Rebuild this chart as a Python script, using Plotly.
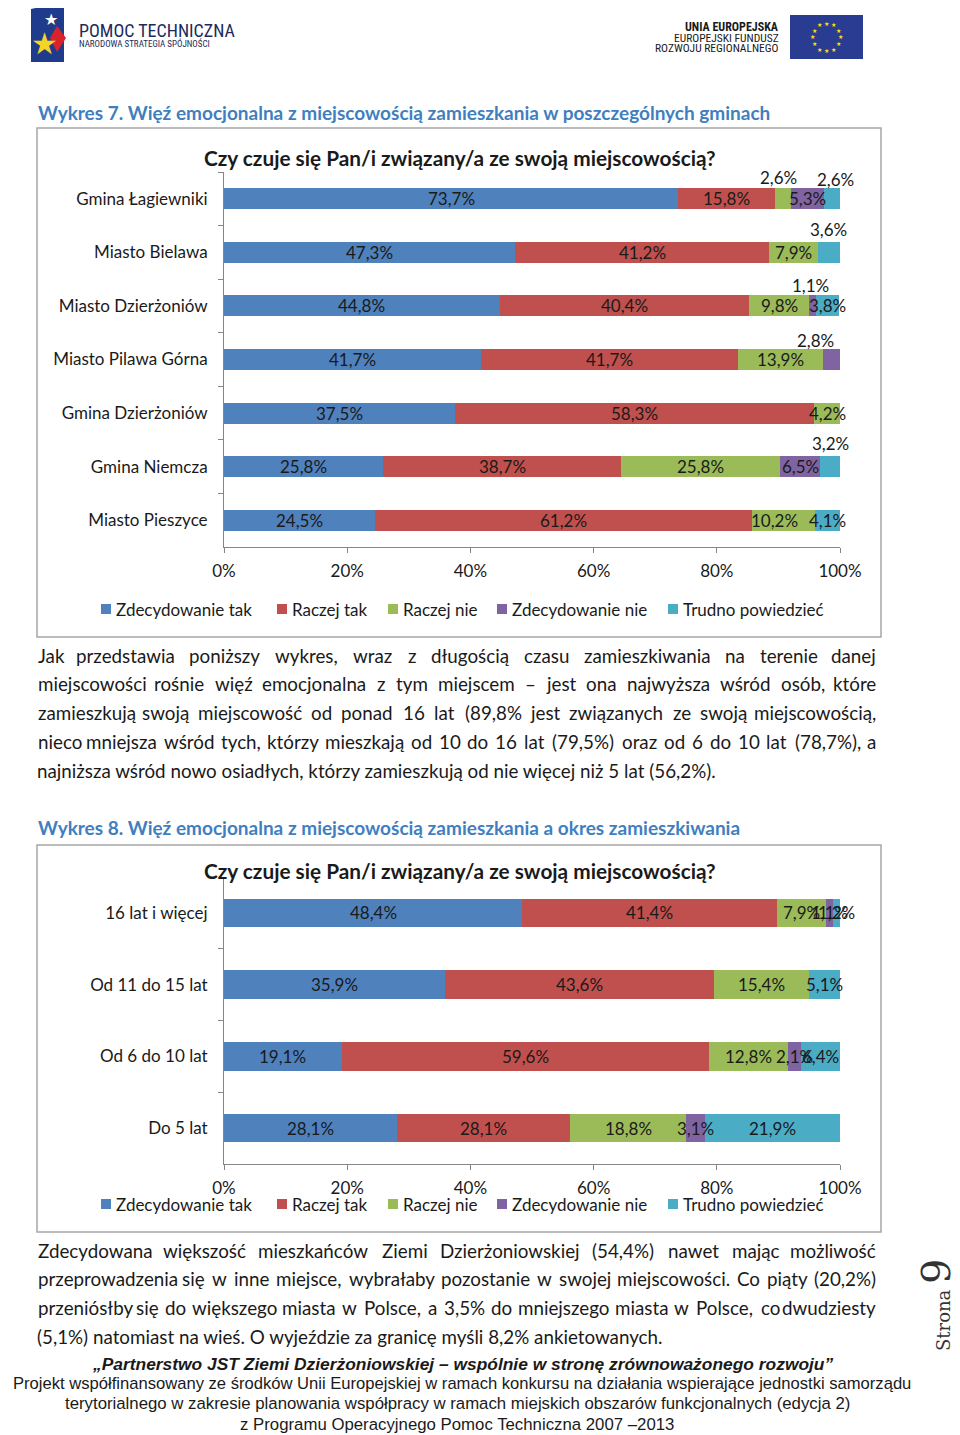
import math
import plotly.graph_objects as go

# The page body has an 8px default margin; the figure is sized/offset to compensate.
OFF = 8
FW, FH = 960 - OFF, 1435 - OFF
FONT = "Lato, Carlito, 'Open Sans', sans-serif"
TXT = "#1a1a1a"

# ---------------- data: Wykres 7 ----------------
cats1 = ["Gmina Łagiewniki", "Miasto Bielawa", "Miasto Dzierżoniów", "Miasto Pilawa Górna",
         "Gmina Dzierżoniów", "Gmina Niemcza", "Miasto Pieszyce"]
series = ["Zdecydowanie tak", "Raczej tak", "Raczej nie", "Zdecydowanie nie", "Trudno powiedzieć"]
colors = ["#4F81BD", "#C0504D", "#9BBB59", "#8064A2", "#4BACC6"]
zt1 = [73.7, 47.3, 44.8, 41.7, 37.5, 25.8, 24.5]
rt1 = [15.8, 41.2, 40.4, 41.7, 58.3, 38.7, 61.2]
rn1 = [2.6, 7.9, 9.8, 13.9, 4.2, 25.8, 10.2]
zn1 = [5.3, 0, 1.1, 2.8, 0, 6.5, 0]
tp1 = [2.6, 3.6, 3.8, 0, 0, 3.2, 4.1]

# ---------------- data: Wykres 8 ----------------
cats2 = ["16 lat i więcej", "Od 11 do 15 lat", "Od 6 do 10 lat", "Do 5 lat"]
zt2 = [48.4, 35.9, 19.1, 28.1]
rt2 = [41.4, 43.6, 59.6, 28.1]
rn2 = [7.9, 15.4, 12.8, 18.8]
zn2 = [1.1, 0, 2.1, 3.1]
tp2 = [1.2, 5.1, 6.4, 21.9]

xticks = [0, 20, 40, 60, 80, 100]
xticklabels = ["0%", "20%", "40%", "60%", "80%", "100%"]

vals1 = [zt1, rt1, rn1, zn1, tp1]
vals2 = [zt2, rt2, rn2, zn2, tp2]

# manual label moves (series index, category index) -> (xshift, yshift) in px
moves1 = {(2, 0): (-5, -21), (4, 0): (4, -19), (4, 1): (0, -23), (3, 2): (-2, -20),
          (3, 3): (-16, -19), (4, 5): (0, -23), (2, 6): (-9, 0)}
moves2 = {}


def px(x):
    return (x - OFF) / FW


def py(y):
    return 1 - (y - OFF) / FH


fig = go.Figure()
for k, name in enumerate(series):
    fig.add_trace(go.Bar(y=cats1, x=vals1[k], orientation="h", name=name,
                         marker=dict(color=colors[k], line=dict(width=0)), width=0.39,
                         xaxis="x", yaxis="y", showlegend=False, hoverinfo="skip"))
for k, name in enumerate(series):
    fig.add_trace(go.Bar(y=cats2, x=vals2[k], orientation="h", name=name,
                         marker=dict(color=colors[k], line=dict(width=0)), width=0.40,
                         xaxis="x2", yaxis="y2", showlegend=False, hoverinfo="skip"))

ann = []
shapes = []


def fmt(v):
    return ("%.1f" % v).replace(".", ",") + "%"


def data_labels(cats, vals, xr, yr, moves):
    for i, c in enumerate(cats):
        cum = 0.0
        for k in range(len(vals)):
            v = vals[k][i]
            if v > 0:
                xs, ys = moves.get((k, i), (0, 0))
                ann.append(dict(x=cum + v / 2, y=c, xref=xr, yref=yr, text=fmt(v), showarrow=False,
                                xanchor="center", yanchor="middle", xshift=xs, yshift=-ys,
                                font=dict(family=FONT, size=17, color=TXT)))
            cum += v


data_labels(cats1, vals1, "x", "y", moves1)
data_labels(cats2, vals2, "x2", "y2", moves2)


def text(x, y, s, size, color=TXT, anchor="left", weight="normal", family=FONT, style="normal", angle=0):
    ann.append(dict(x=px(x), y=py(y), xref="paper", yref="paper", text=s, showarrow=False,
                    xanchor=anchor, yanchor="middle", textangle=angle,
                    font=dict(family=family, size=size, color=color, weight=weight, style=style)))


# ---- width estimate for justification ----
WEM = {}


def setw(chars, w):
    for ch in chars:
        WEM[ch] = w


setw("iljíI.,:;'!|", 0.24)
setw("ł", 0.30)
setw("ft", 0.33)
setw("()", 0.31)
setw("-", 0.33)
setw("r", 0.37)
setw("J", 0.38)
setw("sś", 0.42)
setw("zźż", 0.44)
setw("cć", 0.47)
setw("aą", 0.49)
setw("kvx", 0.49)
setw("y", 0.51)
setw("g", 0.50)
setw("eę", 0.52)
setw("bdhnńpquoó", 0.55)
setw("w", 0.76)
setw("m", 0.82)
setw("0123456789", 0.58)
setw("%", 0.76)
setw("–", 0.55)
setw(" ", 0.2)


def est(word, size):
    t = 0
    for ch in word:
        if ch in WEM:
            t += WEM[ch]
        elif ch.isupper():
            t += 0.65
        else:
            t += 0.5
    return t * size


def justify(line, y, size, x0=36, x1=878):
    words = line.split(" ")
    ws = [est(w, size) for w in words]
    gap = (x1 - x0 - sum(ws)) / (len(words) - 1)
    x = x0
    for i, w in enumerate(words):
        if i == 0:
            text(x0, y, w, size)
        elif i == len(words) - 1:
            text(x1, y, w, size, anchor="right")
        else:
            text(x + ws[i] / 2, y, w, size, anchor="center")
        x += ws[i] + gap


# ---------------- header logos ----------------
def path(points):
    return "M " + " L ".join("%f,%f" % (px(a), py(b)) for a, b in points) + " Z"


NARROW = "'Liberation Sans Narrow', 'Roboto Condensed', Roboto, sans-serif"
shapes.append(dict(type="path", xref="paper", yref="paper",
                   path=path([(31, 9), (64, 2), (64, 62), (31, 62)]),
                   fillcolor="#1F3C8C", line=dict(width=0)))
shapes.append(dict(type="path", xref="paper", yref="paper",
                   path=path([(57, 26), (66, 38), (57, 52), (50, 38)]),
                   fillcolor="#D8232A", line=dict(width=0)))
text(44, 44, "★", 30, color="#F6D324", anchor="center", family="DejaVu Sans")
text(51, 20, "★", 16, color="#FFFFFF", anchor="center", family="DejaVu Sans")
text(77, 30, "POMOC TECHNICZNA", 18, color="#1D2B5C", family=NARROW)
text(77, 44, "NARODOWA STRATEGIA SPÓJNOŚCI", 9, color="#1D2B5C", family=NARROW)

text(781, 27, "UNIA EUROPEJSKA", 12, color="#1a1a1a", anchor="right", weight="bold", family=NARROW)
text(781, 37.5, "EUROPEJSKI FUNDUSZ", 11.5, color="#1a1a1a", anchor="right", family=NARROW)
text(781, 48, "ROZWOJU REGIONALNEGO", 11.5, color="#1a1a1a", anchor="right", family=NARROW)
shapes.append(dict(type="rect", xref="paper", yref="paper", x0=px(790), x1=px(863), y0=py(59), y1=py(15),
                   fillcolor="#2A3C91", line=dict(width=0)))
for s in range(12):
    a = 2 * math.pi * s / 12
    text(826.5 + 14 * math.cos(a), 37 + 14 * math.sin(a), "★", 6, color="#FFE000", anchor="center",
         family="DejaVu Sans")

# ---------------- headings ----------------
BLUE = "#3F7FC0"
text(36, 112, "Wykres 7. Więź emocjonalna z miejscowością zamieszkania w poszczególnych gminach", 19,
     color=BLUE, weight="bold")
text(36, 827, "Wykres 8. Więź emocjonalna z miejscowością zamieszkania a okres zamieszkiwania", 19,
     color=BLUE, weight="bold")

# frames
for (y0, y1) in [(128, 637), (845, 1232)]:
    shapes.append(dict(type="rect", xref="paper", yref="paper", x0=px(37), x1=px(881), y0=py(y1), y1=py(y0),
                       line=dict(color="#A6A6A6", width=1.5), fillcolor="rgba(0,0,0,0)"))

title = "Czy czuje się Pan/i związany/a ze swoją miejscowością?"
text(460, 157, title, 20.8, anchor="center", weight="bold")
text(460, 871, title, 20.8, anchor="center", weight="bold")

# legends
leg_sq = [101, 277, 388, 497, 668]
for ly in [609, 1204]:
    for k, name in enumerate(series):
        shapes.append(dict(type="rect", xref="paper", yref="paper", x0=px(leg_sq[k]), x1=px(leg_sq[k] + 10),
                           y0=py(ly + 5), y1=py(ly - 5), fillcolor=colors[k], line=dict(width=0)))
        text(leg_sq[k] + 13, ly, name, 17)

# ---------------- body text ----------------
BS = 18.8
body1 = [
    "Jak przedstawia poniższy wykres, wraz z długością czasu zamieszkiwania na terenie danej",
    "miejscowości rośnie więź emocjonalna z tym miejscem – jest ona najwyższa wśród osób, które",
    "zamieszkują swoją miejscowość od ponad 16 lat (89,8% jest związanych ze swoją miejscowością,",
    "nieco mniejsza wśród tych, którzy mieszkają od 10 do 16 lat (79,5%) oraz od 6 do 10 lat (78,7%), a",
]
for i, l in enumerate(body1):
    justify(l, 655 + 28.7 * i, BS)
text(35, 770, "najniższa wśród nowo osiadłych, którzy zamieszkują od nie więcej niż 5 lat (56,2%).", BS)

body2 = [
    "Zdecydowana większość mieszkańców Ziemi Dzierżoniowskiej (54,4%) nawet mając możliwość",
    "przeprowadzenia się w inne miejsce, wybrałaby pozostanie w swojej miejscowości. Co piąty (20,2%)",
    "przeniósłby się do większego miasta w Polsce, a 3,5% do mniejszego miasta w Polsce, co dwudziesty",
]
for i, l in enumerate(body2):
    justify(l, 1250 + 28.7 * i, BS)
text(35, 1336, "(5,1%) natomiast na wieś. O wyjeździe za granicę myśli 8,2% ankietowanych.", BS)

# ---------------- footer ----------------
FF = "'Liberation Sans', Arial, sans-serif"
text(462, 1364, "„Partnerstwo JST Ziemi Dzierżoniowskiej – wspólnie w stronę zrównoważonego rozwoju”", 17.4,
     anchor="center", weight="bold", style="italic", family=FF)
text(462, 1383, "Projekt współfinansowany ze środków Unii Europejskiej w ramach konkursu na działania wspierające jednostki samorządu",
     16.6, anchor="center", family=FF)
text(457, 1403, "terytorialnego w zakresie planowania współpracy w ramach miejskich obszarów funkcjonalnych (edycja 2)",
     16.8, anchor="center", family=FF)
text(457, 1424, "z Programu Operacyjnego Pomoc Techniczna 2007 –2013", 16.8, anchor="center", family=FF)

text(936, 1305, "Strona <span style='font-size:40px'>9</span>", 18, color="#333333", anchor="center",
     family="'DejaVu Serif', serif", angle=-90)

# ---------------- axes ----------------
AX = "#868686"
common_x = dict(range=[0, 100], showline=True, linecolor=AX, linewidth=1, ticks="outside", ticklen=5,
                tickcolor=AX, tickvals=xticks, ticktext=xticklabels, showgrid=False, zeroline=False,
                tickfont=dict(family=FONT, size=17, color=TXT), fixedrange=True, ticklabelstandoff=4)
common_y = dict(type="category", autorange="reversed", showline=True, linecolor=AX, linewidth=1,
                ticks="outside", ticklen=5, tickcolor=AX, tickson="boundaries", showgrid=False,
                zeroline=False, tickfont=dict(family=FONT, size=17, color=TXT), fixedrange=True,
                ticklabelstandoff=12)

fig.update_layout(
    width=FW, height=FH, autosize=False, template="none",
    margin=dict(l=0, r=0, t=0, b=0),
    paper_bgcolor="white", plot_bgcolor="rgba(0,0,0,0)",
    barmode="stack", showlegend=False,
    xaxis=dict(domain=[px(224), px(840)], anchor="y", **common_x),
    yaxis=dict(domain=[py(547), py(172)], anchor="x", categoryorder="array", categoryarray=cats1, **common_y),
    xaxis2=dict(domain=[px(224), px(840)], anchor="y2", **common_x),
    yaxis2=dict(domain=[py(1164), py(877)], anchor="x2", categoryorder="array", categoryarray=cats2, **common_y),
    annotations=ann, shapes=shapes,
)

fig.write_html("out.html")
